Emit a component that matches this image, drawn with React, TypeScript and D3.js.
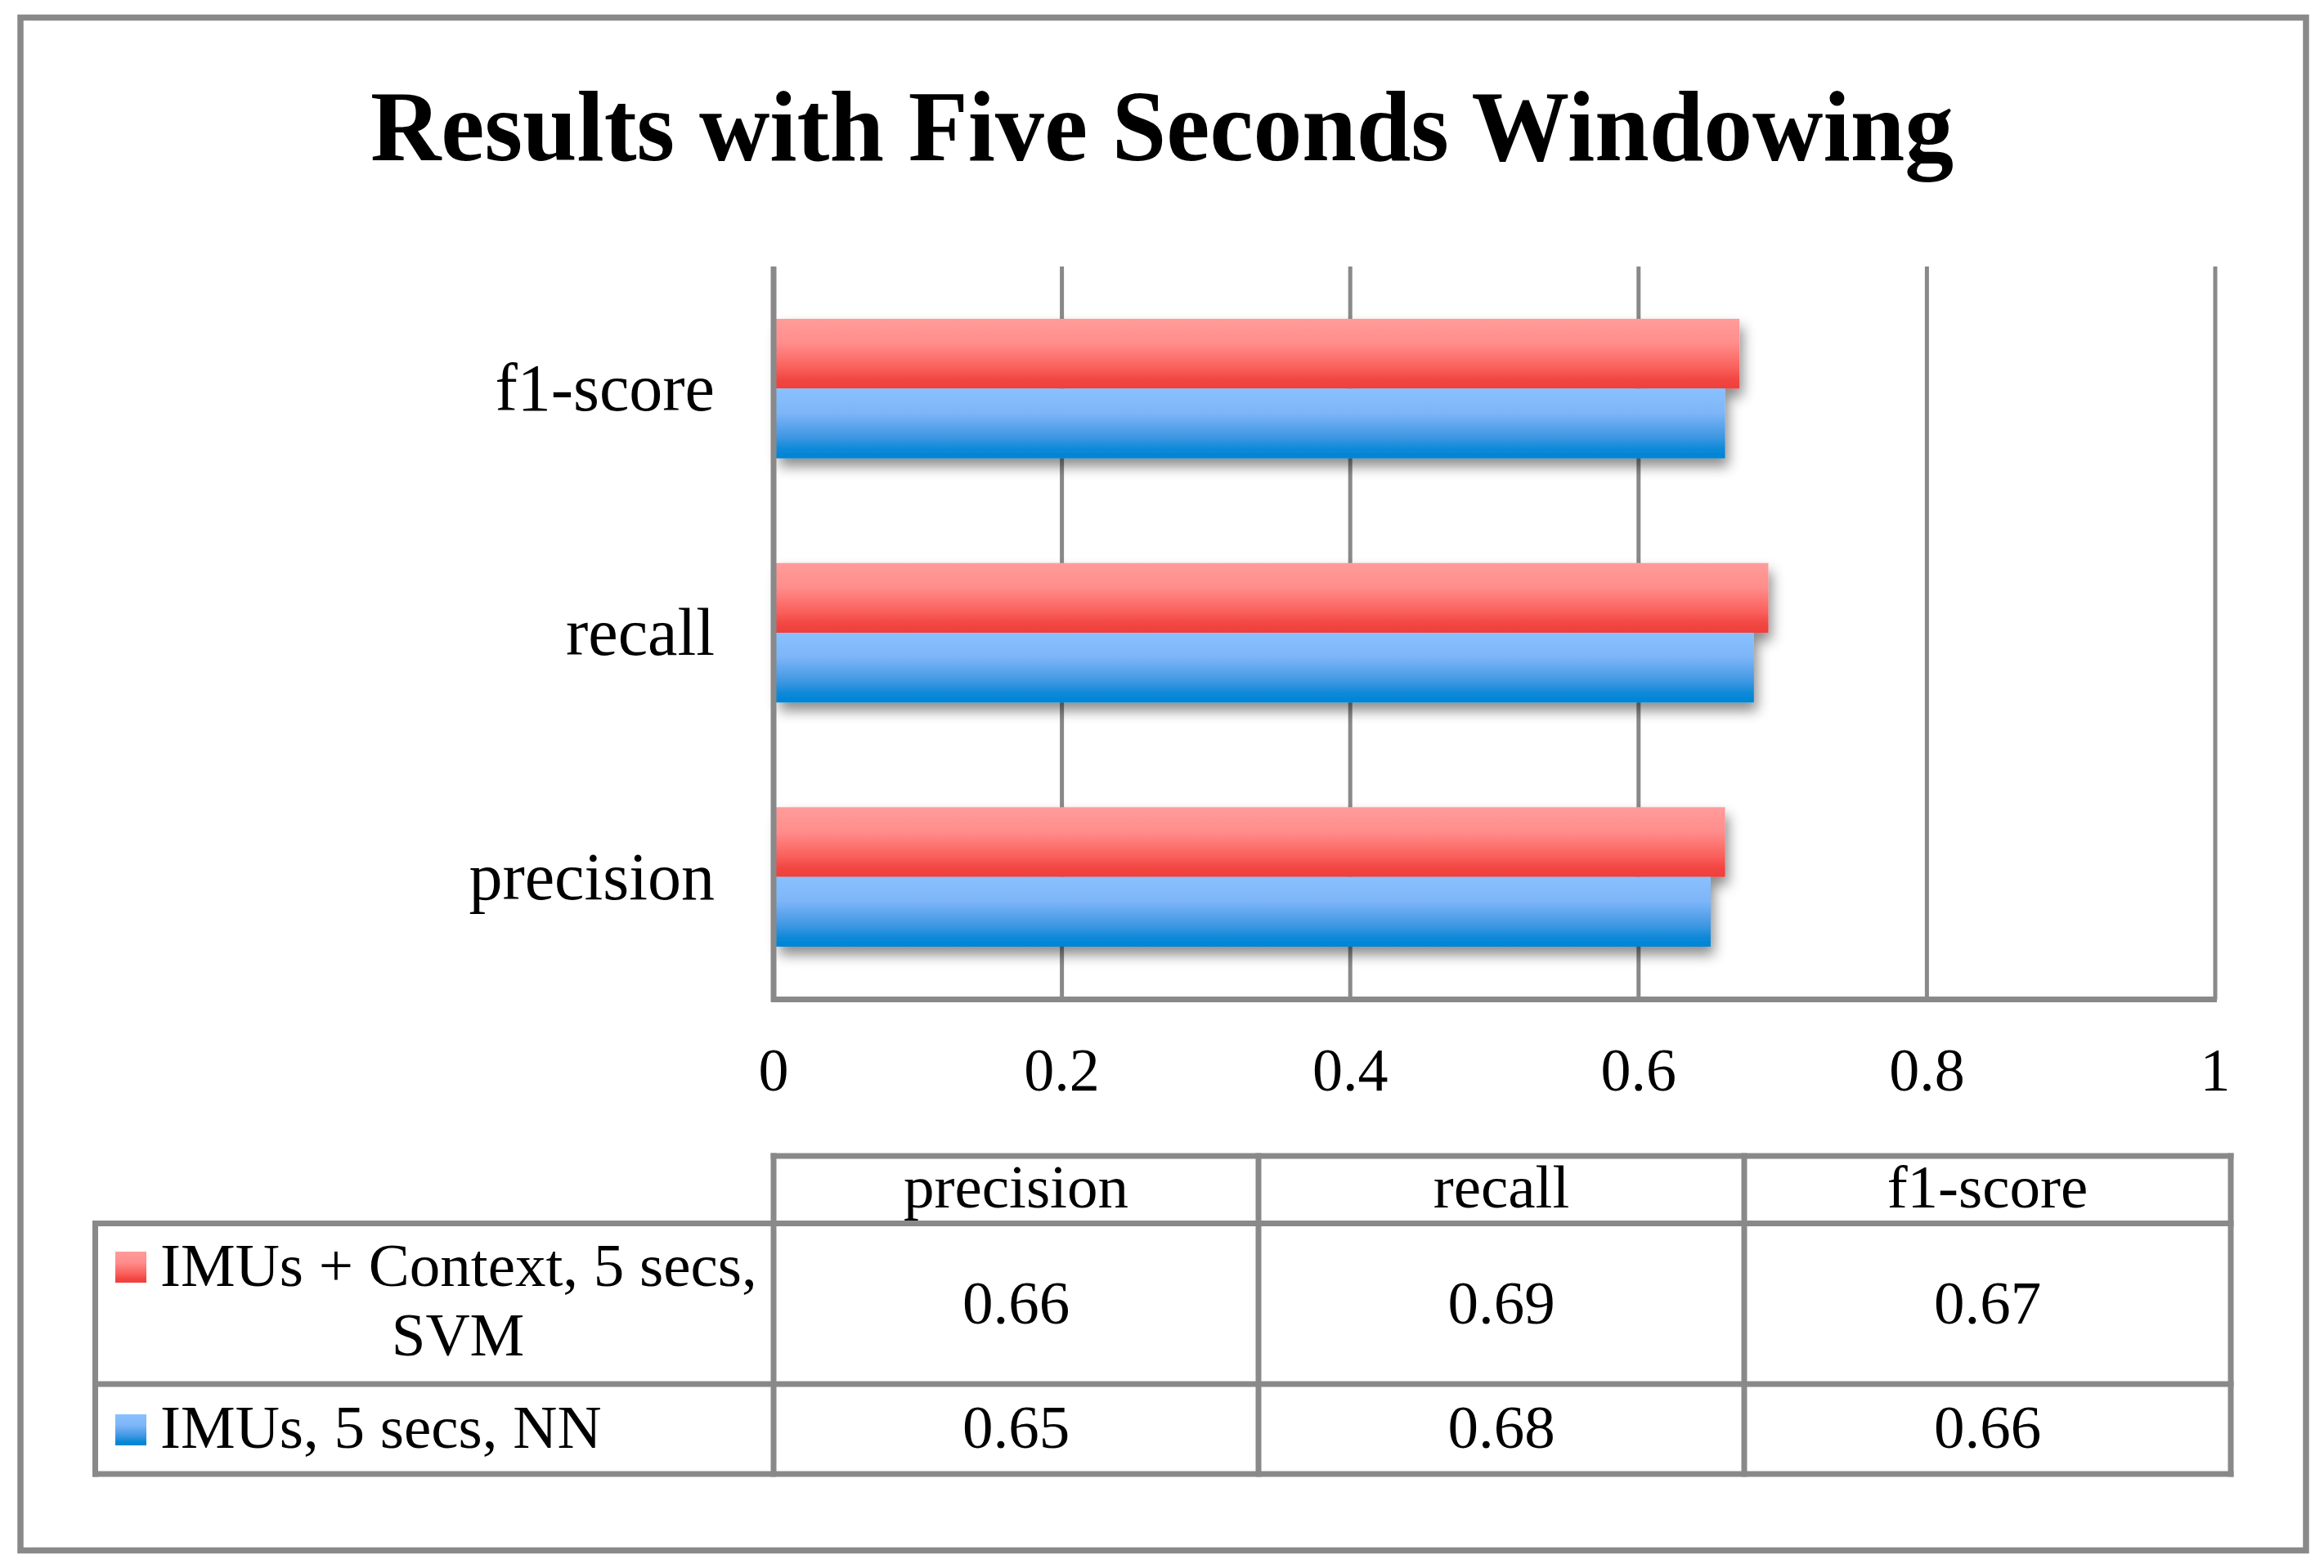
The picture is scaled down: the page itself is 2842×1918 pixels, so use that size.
import React from "react";
import * as d3 from "d3";

const title = "Results with Five Seconds Windowing";
const categories = ["precision", "recall", "f1-score"];
const seriesNames = ["IMUs + Context, 5 secs, SVM", "IMUs, 5 secs, NN"];
const svmValues = [0.66, 0.69, 0.67];
const nnValues = [0.65, 0.68, 0.66];
const xTicks = [0, 0.2, 0.4, 0.6, 0.8, 1];

const W = 2842;
const H = 1918;
const FONT = "'Liberation Serif', 'Times New Roman', serif";
const GREY = "#898989";

const series = [
  { key: "svm", name: seriesNames[0], values: svmValues, grad: "gradRed" },
  { key: "nn", name: seriesNames[1], values: nnValues, grad: "gradBlue" },
];

export default function App() {
  const x = d3.scaleLinear().domain([0, 1]).range([946, 2709]);
  const yOrder = [...categories].reverse(); // f1-score on top
  const y = d3
    .scaleBand<string>()
    .domain(yOrder)
    .range([326, 1222])
    .paddingInner(0.4286)
    .paddingOuter(0.2143);
  const ys = d3
    .scaleBand<string>()
    .domain(series.map((s) => s.key))
    .range([0, y.bandwidth()]);

  const plotTop = 326;
  const plotBottom = 1222.5;

  // table geometry
  const tLeft = 116.5;
  const tRight = 2728;
  const colX = [946, 1539, 2133, 2728];
  const rowY = [1414, 1496.5, 1693, 1803];
  const colCenters = [0, 1, 2].map((i) => (colX[i] + colX[i + 1]) / 2);

  return (
    <svg
      width={W}
      height={H}
      style={{ position: "absolute", left: 0, top: 0, background: "#fff" }}
      fontFamily={FONT}
    >
      <defs>
        <linearGradient id="gradRed" x1="0" y1="0" x2="0" y2="1">
          <stop offset="0" stopColor="#FF9C9A" />
          <stop offset="0.35" stopColor="#FF8D8B" />
          <stop offset="0.7" stopColor="#FA605C" />
          <stop offset="0.88" stopColor="#F14541" />
          <stop offset="1" stopColor="#F0403D" />
        </linearGradient>
        <linearGradient id="gradBlue" x1="0" y1="0" x2="0" y2="1">
          <stop offset="0" stopColor="#89C1FF" />
          <stop offset="0.35" stopColor="#7DB5F8" />
          <stop offset="0.7" stopColor="#3E97E2" />
          <stop offset="0.88" stopColor="#0A88D8" />
          <stop offset="1" stopColor="#0085D5" />
        </linearGradient>
        <filter id="shadow" x="-5%" y="-20%" width="115%" height="160%">
          <feDropShadow dx="4" dy="10" stdDeviation="8" floodColor="#000" floodOpacity="0.45" />
        </filter>
      </defs>

      <rect x={0} y={0} width={W} height={H} fill="#fff" />
      {/* outer border */}
      <rect x={25} y={21.5} width={2795} height={1875} fill="none" stroke={GREY} strokeWidth={7.5} />

      {/* title */}
      <text
        x={1421}
        y={196}
        textAnchor="middle"
        fontSize={122}
        fontWeight="bold"
        textLength={1936}
        lengthAdjust="spacingAndGlyphs"
      >
        {title}
      </text>

      {/* gridlines */}
      {xTicks.slice(1).map((t) => (
        <line key={t} x1={x(t)} x2={x(t)} y1={plotTop} y2={plotBottom} stroke={GREY} strokeWidth={5} />
      ))}

      {/* bars */}
      {yOrder.map((cat) => {
        const ci = categories.indexOf(cat);
        return (
          <g key={cat} filter="url(#shadow)">
            {series.map((s) => (
              <rect
                key={s.key}
                x={x(0) + 3}
                y={(y(cat) as number) + (ys(s.key) as number)}
                width={x(s.values[ci]) - x(0) - 3}
                height={ys.bandwidth()}
                fill={`url(#${s.grad})`}
              />
            ))}
          </g>
        );
      })}

      {/* axes */}
      <line x1={x(0)} x2={x(0)} y1={plotTop} y2={plotBottom + 3} stroke={GREY} strokeWidth={7} />
      <line x1={x(0) - 3} x2={x(1) + 2} y1={plotBottom} y2={plotBottom} stroke={GREY} strokeWidth={7} />

      {/* category labels */}
      {yOrder.map((cat) => (
        <text
          key={cat}
          x={874}
          y={(y(cat) as number) + y.bandwidth() / 2 + 27}
          textAnchor="end"
          fontSize={82}
        >
          {cat}
        </text>
      ))}

      {/* tick labels */}
      {xTicks.map((t) => (
        <text key={t} x={x(t)} y={1334} textAnchor="middle" fontSize={74}>
          {d3.format("~g")(t)}
        </text>
      ))}

      {/* data table lines */}
      <g stroke={GREY} strokeWidth={7} strokeLinecap="square">
        <line x1={colX[0]} x2={tRight} y1={rowY[0]} y2={rowY[0]} />
        <line x1={tLeft} x2={tRight} y1={rowY[1]} y2={rowY[1]} />
        <line x1={tLeft} x2={tRight} y1={rowY[2]} y2={rowY[2]} />
        <line x1={tLeft} x2={tRight} y1={rowY[3]} y2={rowY[3]} />
        <line x1={tLeft} x2={tLeft} y1={rowY[1]} y2={rowY[3]} />
        {colX.map((cx) => (
          <line key={cx} x1={cx} x2={cx} y1={rowY[0]} y2={rowY[3]} />
        ))}
      </g>

      {/* header */}
      {categories.map((c, i) => (
        <text key={c} x={colCenters[i]} y={1477} textAnchor="middle" fontSize={75}>
          {c}
        </text>
      ))}

      {/* row 1 */}
      <rect x={141} y={1531} width={38} height={38} fill="url(#gradRed)" />
      <text x={196} y={1573} fontSize={75}>
        IMUs + Context, 5 secs,
      </text>
      <text x={560} y={1658} fontSize={75} textAnchor="middle">
        SVM
      </text>
      {svmValues.map((v, i) => (
        <text key={i} x={colCenters[i]} y={1619} textAnchor="middle" fontSize={75}>
          {v.toFixed(2)}
        </text>
      ))}

      {/* row 2 */}
      <rect x={141} y={1730} width={38} height={38} fill="url(#gradBlue)" />
      <text x={196} y={1771} fontSize={75}>
        {seriesNames[1]}
      </text>
      {nnValues.map((v, i) => (
        <text key={i} x={colCenters[i]} y={1771} textAnchor="middle" fontSize={75}>
          {v.toFixed(2)}
        </text>
      ))}
    </svg>
  );
}
